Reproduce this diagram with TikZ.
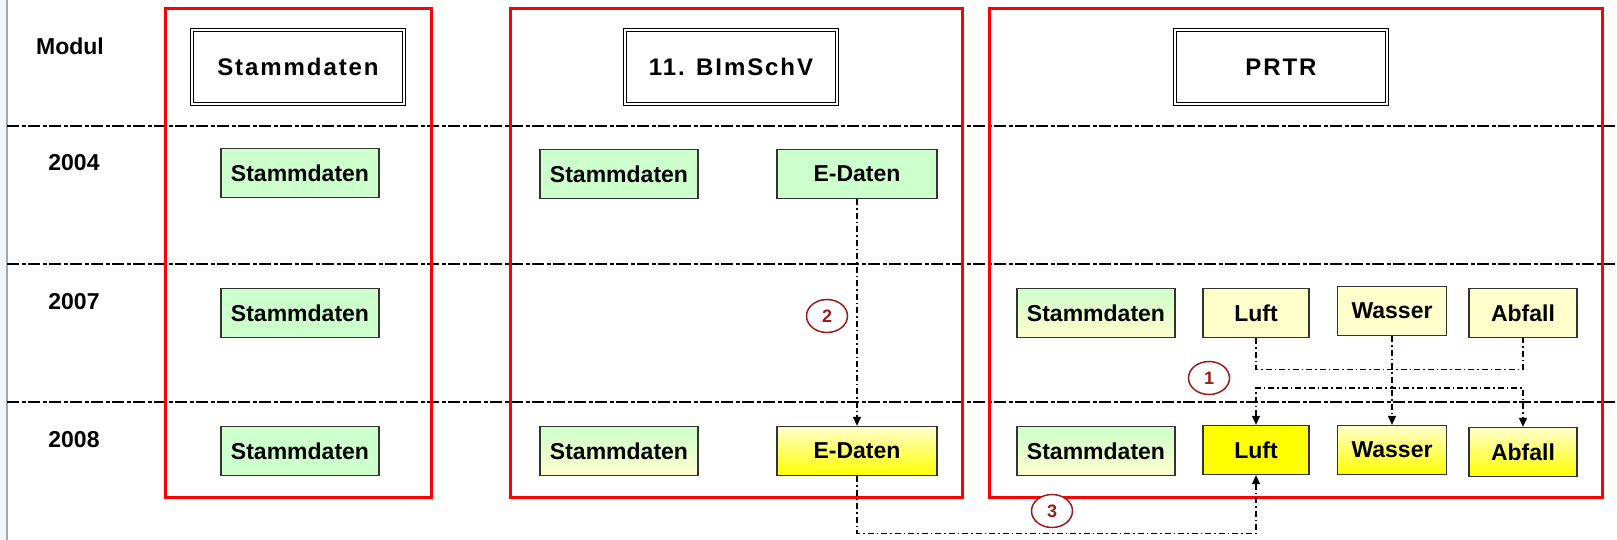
\documentclass[tikz,border=0pt]{standalone}
\usepackage{fontspec}
\setmainfont{Liberation Sans}
\usetikzlibrary{arrows.meta,shapes.geometric}
\definecolor{lgreen}{HTML}{CCFFCC}
\definecolor{lyellow}{HTML}{FFFFCC}
\definecolor{yell}{HTML}{FFFF00}
\definecolor{dred}{HTML}{9B1B1B}
\definecolor{edge}{HTML}{A8A8A8}
\definecolor{side}{HTML}{F2F5F8}
\begin{document}
\begin{tikzpicture}[x=1pt,y=-1pt]
			\tikzstyle{module}=[draw=red,line width=3pt]
			\tikzstyle{sep}=[line width=2.8pt,dash pattern=on 12pt off 2.5pt on 4pt off 2.5pt]
			\tikzstyle{title}=[draw,double,line width=1.2pt,double distance=2.5pt,minimum width=212pt,minimum height=74pt,inner sep=0pt,font=\bfseries\fontsize{24}{28}\selectfont\addfontfeature{LetterSpace=8}]
			\tikzstyle{data}=[draw=black!80,line width=1.3pt,minimum height=49pt,inner sep=0pt,font=\bfseries\fontsize{23}{27}\selectfont]
			\tikzstyle{gbox}=[data,fill=lgreen,minimum width=158pt]
			\tikzstyle{gybox}=[data,top color=lgreen,bottom color=lyellow,minimum width=158pt]
			\tikzstyle{ybox}=[data,fill=lyellow]
			\tikzstyle{yybox}=[data,top color=lyellow,bottom color=yell]
			\tikzstyle{lbl}=[font=\bfseries\fontsize{23}{27}\selectfont]
			\tikzstyle{link}=[line width=1.3pt,dash pattern=on 6pt off 3pt on 1.5pt off 3pt]
			\tikzstyle{tip}=[-{Triangle[width=8pt,length=9pt]}]
			\tikzstyle{num}=[ellipse,draw=dred,line width=1.5pt,fill=white,minimum width=41pt,minimum height=33pt,inner sep=0pt,text=dred,font=\bfseries\fontsize{18}{20}\selectfont]
			\useasboundingbox (0,0) rectangle (1617,540);
			\fill[side] (0,0) rectangle (7,540);
			\draw[edge,line width=1.5pt] (7,0) -- (7,540);
			
			% rows
			\foreach \y in {126,264,402}
				\draw[sep] (7,\y) -- (1617,\y);
			\node[lbl] (modul) at (70,46) {Modul};
			\node[lbl] (y2004) at (74,163) {2004};
			\node[lbl] (y2007) at (74,302) {2007};
			\node[lbl] (y2008) at (74,440) {2008};
			
			% modules
			\draw[module] (165,9) rectangle (431,497);
			\draw[module] (510,9) rectangle (962,497);
			\draw[module] (989,9) rectangle (1602,497);
			\node[title] (t-st) at (298,67)  {Stammdaten};
			\node[title] (t-bi) at (731,67)  {11. BImSchV};
			\node[title] (t-pr) at (1281,67) {PRTR};
			
			\begin{scope}
			\node[gbox] (st-04) at (300,173) {Stammdaten};
			\node[gbox] (st-07) at (300,313) {Stammdaten};
			\node[gbox] (st-08) at (300,451) {Stammdaten};
			\node[gbox] (bi-st-04) at (619,174) {Stammdaten};
			\node[gbox,minimum width=160pt] (bi-ed-04) at (857,174) {E-Daten};
			\node[gybox] (bi-st-08) at (619,451) {Stammdaten};
			\node[yybox,minimum width=160pt] (bi-ed-08) at (857,451) {E-Daten};
			\node[gybox] (pr-st-07) at (1096,313) {Stammdaten};
			\node[ybox,minimum width=106pt] (pr-lu-07) at (1256,313) {Luft};
			\node[ybox,minimum width=109pt] (pr-wa-07) at (1392,311) {Wasser};
			\node[ybox,minimum width=108pt] (pr-ab-07) at (1523,313) {Abfall};
			\node[gybox] (pr-st-08) at (1096,451) {Stammdaten};
			\node[data,fill=yell,minimum width=106pt] (pr-lu-08) at (1256,450) {Luft};
			\node[yybox,minimum width=109pt] (pr-wa-08) at (1392,450) {Wasser};
			\node[yybox,minimum width=108pt] (pr-ab-08) at (1523,452) {Abfall};
			\end{scope}
			
			\draw[link,tip] (bi-ed-04) -- (bi-ed-08);
			\draw[link] (pr-lu-07.south) -- ++(0,31) -| (pr-ab-07.south);
			\draw[link,tip] (pr-wa-07) -- (pr-wa-08);
			\draw[link,{Triangle[width=8pt,length=9pt]}-{Triangle[width=8pt,length=9pt]}]
				(pr-lu-08.north) -- ++(0,-37) -| (pr-ab-08.north);
			\draw[link,tip] (bi-ed-08.south) -- ++(0,57) -| (pr-lu-08.south);
			
			\node[num] (n1) at (1209,378) {1};
			\node[num] (n2) at (827,316)  {2};
			\node[num] (n3) at (1052,511) {3};
		\end{tikzpicture}
\end{document}
